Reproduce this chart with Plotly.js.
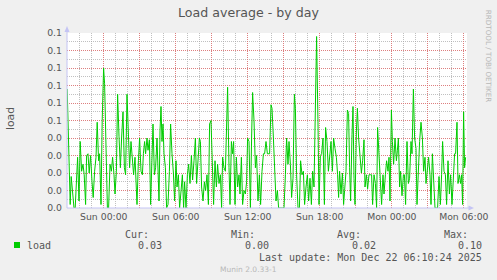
<!DOCTYPE html>
<html>
<head>
<meta charset="utf-8">
<script src="https://cdn.plot.ly/plotly-3.0.1.min.js"></script>
<style>
html,body{margin:0;padding:0;background:#f0f0f0;}
#chart{width:497px;height:280px;}
</style>
</head>
<body>
<div id="chart"></div>
<script>
// Minutes relative to Sun Dec 21 2025 00:00
const minutes = [
-183,-174,-168,-163,-156,-149,-143,-138,-131,-124,-118,-111,-104,-98,-91,-86,-79,-73,-66,-59,
-53,-46,-39,-33,-26,-21,-14,-8,-1,4,11,18,24,31,38,44,51,56,63,69,76,83,89,96,103,109,116,123,129,136,
143,149,156,161,166,173,179,186,193,198,204,209,216,221,228,234,241,246,253,259,266,273,276,281,286,291,296,301,308,314,
321,328,334,341,348,354,361,366,373,379,386,393,399,404,411,418,424,431,438,444,451,458,464,471,478,
483,489,496,503,509,516,523,529,536,543,549,556,563,569,576,583,589,594,601,608,614,619,626,631,638,644,649,656,663,669,
676,681,688,694,701,708,714,719,726,733,739,744,751,758,764,771,778,784,791,798,804,811,818,
823,829,836,841,848,854,861,868,874,881,888,894,901,908,914,921,926,933,939,946,953,958,964,971,978,984,991,998,1004,1011,
1018,1024,1031,1038,1044,1051,1058,1064,1071,1076,1083,1089,1096,1103,1109,1116,1123,1129,1136,1143,1149,1156,
1163,1169,1174,1179,1186,1193,1199,1204,1211,1218,1224,1229,1234,1241,1246,1251,1256,1263,1268,1274,1281,1288,1294,1301,1306,1313,1319,1326,1333,1339,
1344,1351,1358,1364,1369,1376,1383,1389,1396,1401,1408,1414,1421,1426,1431,1438,1443,1449,1456,1463,1468,1473,1479,1484,1491,1498,
1503,1509,1516,1523,1529,1536,1541,1548,1554,1561,1566,1573,1579,1586,1593,1599,1606,1611,1618,1624,1631,1636,1643,1649,1656,1663,1669,1676,1683,1689,
1694,1701,1708,1714,1721,1728,1734,1741,1748,1754,1759,1766,1771,1778,1784,1789,1794,1799,1804,1809
];
const load = [
0.068,0.036,0.002,0.018,0.008,0,0,0.015,0.029,0.004,0.038,0.021,0.025,0.019,0.002,0.030,0.031,0.020,0.030,0.015,
0.006,0.021,0.029,0.049,0.027,0.031,0.002,0.050,0.080,0.071,0.023,0,0,0.025,0.021,0.029,0.019,0.008,0.021,0.065,0.041,0.023,0.040,0.055,0.023,0.019,0.065,0.042,0.023,0.038,
0.029,0.019,0.029,0.012,0.002,0.027,0.040,0.021,0.019,0.031,0.038,0.031,0.040,0.033,0.039,0.002,0.031,0.048,0.019,0.023,0.040,0.019,0.004,0.044,0.058,0.038,0.048,0.031,0.023,0,
0.002,0.021,0.048,0.031,0.020,0.004,0.027,0.012,0.019,0,0.011,0.019,0,0.015,0,0.019,0.025,0.014,0.030,0.016,0.027,0.040,0.014,0.025,0.040,
0.038,0.012,0.004,0.015,0.010,0.019,0.002,0.048,0.050,0.021,0.002,0.027,0.012,0.025,0.014,0.019,0,0.029,0.023,0.021,0.057,0.069,0.023,0.002,0.038,0.031,0.038,0.002,0.029,0.012,
0.019,0.008,0.029,0.002,0.010,0.008,0.015,0.040,0.038,0,0.040,0.066,0.050,0.023,0.030,0.004,0.019,0.002,0.021,0.031,0.031,0.038,0.031,
0.031,0.031,0.059,0.057,0.040,0.020,0.004,0.010,0,0,0,0,0,0.019,0.040,0.025,0.038,0.025,0.006,0.017,0.065,0.057,0.019,0,0,0.027,0.019,0.021,0.002,0.012,
0.019,0.004,0.017,0.002,0.021,0.012,0.073,0.098,0.048,0.002,0.030,0.031,0.040,0.002,0.046,0.038,0.021,0.031,0.038,0.021,0.040,0.034,
0.029,0.019,0.006,0.021,0.008,0.020,0.002,0.010,0.021,0.056,0.054,0.023,0.004,0.042,0.058,0.017,0.002,0.044,0.057,0.040,0.027,0.020,0.027,0.039,0.012,0.019,0.011,0.019,0.019,0.019,
0.002,0.019,0.014,0,0.046,0.031,0.012,0.002,0.019,0.008,0.019,0.027,0.021,0.029,0.004,0.056,0.038,0.025,0.040,0.027,0.033,0.040,0.012,0.021,0.007,0.019,
0.019,0.002,0.038,0.014,0.017,0.038,0.031,0.068,0.040,0.034,0.002,0.023,0.038,0.049,0.040,0.021,0.029,0.014,0.021,0.029,0.019,0.002,0.031,0.019,0,0,0,0.018,0.002,0.019,
0.038,0.021,0.019,0.002,0.027,0.008,0.019,0.002,0.019,0.031,0.031,0.049,0.014,0.019,0.014,0.019,0.002,0.055,0.023,0.029
];
const xLabels = ["Sun 00:00","Sun 06:00","Sun 12:00","Sun 18:00","Mon 00:00","Mon 06:00"];
const yTickValues = [0,0.01,0.02,0.03,0.04,0.05,0.06,0.07,0.08,0.09,0.1];
const yTickText = ["0.0","0.0","0.0","0.0","0.0","0.1","0.1","0.1","0.1","0.1","0.1"];
const statHeaders = ["Cur:","Min:","Avg:","Max:"];
const statValues = ["0.03","0.00","0.02","0.10"];
const seriesName = "load";
const lastUpdate = "Last update: Mon Dec 22 06:10:24 2025";

// x ticks: labelled every 6h, major grid every 3h
const xTickVals = [], xTickText = [];
xLabels.forEach((lab, i) => {
  xTickVals.push(i * 360); xTickText.push(lab);
  if (i < xLabels.length - 1) { xTickVals.push(i * 360 + 180); xTickText.push(""); }
});

// pixel -> paper helpers (plot area 67..467 x, 33..208 y)
const PL = 67, PW = 400, PB = 208, PH = 175;
const px = x => (x - PL) / PW;
const py = y => (PB - y) / PH;

const RED = "rgba(228,110,110,0.8)";
const GREY = "rgba(165,165,165,0.7)";
const AXC = "#c4c4f4";
const MONO = "DejaVu Sans Mono";
const TXT = "#555";

const ann = [];
ann.push({xref:"paper",yref:"paper",x:px(10.5),y:py(118.5),text:"load",textangle:-90,showarrow:false,
  font:{family:"DejaVu Sans",size:10.8,color:TXT},xanchor:"center",yanchor:"middle"});
ann.push({xref:"paper",yref:"paper",x:px(488.7),y:py(56.5),text:"RRDTOOL / TOBI OETIKER",textangle:90,showarrow:false,
  font:{family:"DejaVu Sans",size:7.2,color:"#b8b8b8"},xanchor:"center",yanchor:"middle"});
const hdrRight = [150,256,362.3,469.3];
const valRight = [163.3,270,376.7,483.3];
statHeaders.forEach((h,i)=>{
  ann.push({xref:"paper",yref:"paper",x:px(hdrRight[i]),y:py(234),text:h,showarrow:false,
    font:{family:MONO,size:10,color:TXT},xanchor:"right",yanchor:"middle",borderpad:0});
  ann.push({xref:"paper",yref:"paper",x:px(valRight[i]),y:py(245.5),text:statValues[i],showarrow:false,
    font:{family:MONO,size:10,color:TXT},xanchor:"right",yanchor:"middle",borderpad:0});
});
ann.push({xref:"paper",yref:"paper",x:px(26),y:py(245.5),text:seriesName,showarrow:false,
  font:{family:MONO,size:10,color:TXT},xanchor:"left",yanchor:"middle",borderpad:0});
ann.push({xref:"paper",yref:"paper",x:px(483.3),y:py(257.3),text:lastUpdate,showarrow:false,
  font:{family:MONO,size:10,color:TXT},xanchor:"right",yanchor:"middle",borderpad:0});
ann.push({xref:"paper",yref:"paper",x:px(248.5),y:py(269.3),text:"Munin 2.0.33-1",showarrow:false,
  font:{family:"DejaVu Sans",size:7.5,color:"#b8b8b8"},xanchor:"center",yanchor:"middle",borderpad:0});

const shapes = [
  // legend swatch
  {type:"rect",xref:"paper",yref:"paper",x0:px(14),x1:px(20),y0:py(248),y1:py(242),fillcolor:"#00cc00",line:{width:0}},
  // left axis line + arrow
  {type:"line",xref:"paper",yref:"paper",x0:px(67),x1:px(67),y0:py(208),y1:py(31),line:{color:AXC,width:1}},
  {type:"path",xref:"paper",yref:"paper",path:`M ${px(64.5)} ${py(32)} L ${px(69.5)} ${py(32)} L ${px(67)} ${py(26)} Z`,fillcolor:AXC,line:{width:0}},
  // bottom axis line + arrow
  {type:"line",xref:"paper",yref:"paper",x0:px(67),x1:px(469),y0:py(208),y1:py(208),line:{color:AXC,width:1}},
  {type:"path",xref:"paper",yref:"paper",path:`M ${px(468.5)} ${py(205.5)} L ${px(468.5)} ${py(210.5)} L ${px(474)} ${py(208)} Z`,fillcolor:AXC,line:{width:0}}
];

const trace = {
  x: minutes, y: load, type:"scatter", mode:"lines",
  line:{color:"#00cc00",width:1}, hoverinfo:"skip", showlegend:false
};

const layout = {
  width:497, height:280,
  margin:{l:67,r:30,t:33,b:72,pad:0},
  paper_bgcolor:"#f0f0f0", plot_bgcolor:"#ffffff",
  showlegend:false,
  title:{text:"Load average - by day",x:0.5,xref:"container",xanchor:"center",y:1-13/280,yref:"container",yanchor:"middle",
    font:{family:"DejaVu Sans",size:12.6,color:TXT}},
  xaxis:{range:[-184,1816],tickmode:"array",tickvals:xTickVals,ticktext:xTickText,
    showgrid:true,gridcolor:RED,gridwidth:1,griddash:"1px,1px",zeroline:false,showline:false,ticks:"",
    ticklabelstandoff:2,
    tickfont:{family:"DejaVu Sans",size:9.3,color:TXT},
    minor:{tick0:0,dtick:60,showgrid:true,gridcolor:GREY,gridwidth:1,griddash:"1px,1px",ticks:""},
    fixedrange:true},
  yaxis:{range:[0,0.1],tickmode:"array",tickvals:yTickValues,ticktext:yTickText,
    showgrid:true,gridcolor:RED,gridwidth:1,griddash:"1px,1px",zeroline:false,showline:false,ticks:"",
    ticklabelstandoff:4,
    tickfont:{family:"DejaVu Sans",size:9.3,color:TXT},
    minor:{tick0:0,dtick:0.005,showgrid:true,gridcolor:GREY,gridwidth:1,griddash:"1px,1px",ticks:""},
    fixedrange:true},
  annotations:ann, shapes:shapes
};

Plotly.newPlot("chart",[trace],layout,{staticPlot:true,displayModeBar:false});
</script>
</body>
</html>
